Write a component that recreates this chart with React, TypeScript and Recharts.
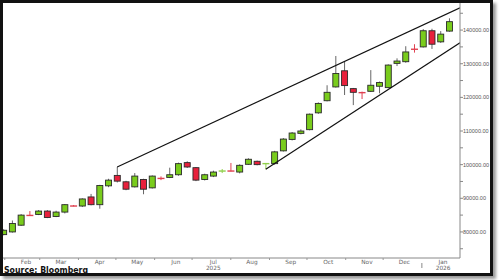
import React from "react";
import { ComposedChart, Bar, Line, XAxis, YAxis } from "recharts";

// weekly candles, first one dated 31 Jan 2025
const opens = [
  79200, 80000, 82000, 85000, 85200, 86200, 84600, 85900, 87800, 87700,
  90400, 88100, 93700, 96800, 94900, 93400, 95600, 93100, 96000, 96200,
  97000, 100600, 99100, 95600, 96600, 98000, 98200, 97800, 100100, 101000,
  100200, 100300, 104100, 107500, 109300, 110400, 115400, 119000, 123100, 127900,
  122600, 121500, 121800, 123300, 122900, 130100, 130600, 134400, 135000, 139800,
  136500, 139700,
];
const highs = [
  80800, 83400, 85300, 86200, 86500, 86500, 86300, 88300, 88000, 90000,
  91300, 94000, 95800, 99300, 95200, 97500, 95800, 96800, 96500, 99100,
  100600, 101000, 99300, 97300, 98200, 98700, 100500, 100100, 101900, 101200,
  100500, 104100, 107900, 109700, 110500, 115200, 118500, 123600, 132300, 130600,
  122800, 121700, 128100, 124700, 129800, 131600, 135200, 135800, 140300, 140400,
  139700, 143500,
];
const lows = [
  79000, 79800, 81800, 84800, 85000, 84100, 84400, 85500, 87600, 87400,
  87900, 86900, 93300, 94700, 92400, 93200, 91200, 92900, 95400, 96000,
  96700, 99000, 95100, 95300, 96300, 97500, 98000, 97400, 99900, 99800,
  98600, 100000, 103900, 107200, 109000, 110200, 115100, 118800, 122900, 120700,
  117700, 119500, 121600, 121200, 122700, 129300, 130300, 133300, 134800, 134400,
  136200, 139500,
];
const closes = [
  80500, 82500, 85000, 84900, 86200, 84300, 85900, 88100, 87700, 89800,
  88100, 93800, 95400, 95100, 92700, 96600, 92700, 96600, 95900, 97000,
  100300, 99300, 95400, 97000, 97800, 98100, 98100, 99800, 101600, 100000,
  100300, 103800, 107600, 109400, 110000, 115000, 118200, 121500, 127100, 123500,
  121500, 121400, 123600, 124400, 129600, 130800, 133500, 134300, 139800, 135800,
  138800, 142500,
];

// wedge lines: [week index, price]
const upperWedge = [[13, 99300], [52.22, 146600]];
const lowerWedge = [[30, 98600], [52.22, 136200]];

const monthNames = ["Feb", "Mar", "Apr", "May", "Jun", "Jul", "Aug", "Sep", "Oct", "Nov", "Dec", "Jan"];
const monthStarts = [
  "2025-02-01", "2025-03-01", "2025-04-01", "2025-05-01", "2025-06-01", "2025-07-01",
  "2025-08-01", "2025-09-01", "2025-10-01", "2025-11-01", "2025-12-01", "2026-01-01",
];
const monthLabelDates = [
  "2025-02-18", "2025-03-18", "2025-04-18", "2025-05-18", "2025-06-18", "2025-07-18",
  "2025-08-18", "2025-09-18", "2025-10-18", "2025-11-18", "2025-12-18", "2026-01-18",
];
const yearLabels: Record<string, string> = { Jul: "2025", Jan: "2026" };
const yTicks = [75000, 80000, 85000, 90000, 95000, 100000, 105000, 110000, 115000, 120000, 125000, 130000, 135000, 140000, 145000];

const base = Date.UTC(2025, 0, 31);
const weekIdx = (d: string) => (Date.parse(d + "T00:00:00Z") - base) / (7 * 86400000);

const data: any[] = opens.map((o, i) => ({
  i,
  o,
  h: highs[i],
  l: lows[i],
  c: closes[i],
  range: [lows[i], highs[i]],
}));
const addPoint = (key: string, [i, v]: number[]) => {
  const row = data.find((r) => r.i === i);
  if (row) row[key] = v;
  else data.push({ i, [key]: v });
};
upperWedge.forEach((p) => addPoint("up", p));
lowerWedge.forEach((p) => addPoint("lo", p));

const boundaryTicks = monthStarts.map(weekIdx);
const labelTicks = monthLabelDates.map(weekIdx);
const xTicks = [...boundaryTicks, ...labelTicks];

const GREEN = "#79cc1c";
const RED = "#e8203c";

const Candle = (props: any) => {
  const { x, y, width, height, payload } = props;
  if (!payload || payload.range == null) return null;
  const { o, h, l, c } = payload;
  const top = Math.min(y, y + height);
  const span = Math.abs(height);
  const py = (v: number) => (h === l ? top : top + ((h - v) / (h - l)) * span);
  const cx = x + width / 2;
  const up = c >= o;
  if (Math.abs(c - o) < 250) {
    const col = up ? "#8fcf4a" : "#e04050";
    return (
      <g>
        <line x1={cx} x2={cx} y1={py(h)} y2={py(l)} stroke={col} strokeWidth={1} />
        <line x1={x} x2={x + width} y1={py(c)} y2={py(c)} stroke={col} strokeWidth={1.4} />
      </g>
    );
  }
  const bt = py(Math.max(o, c));
  const bb = py(Math.min(o, c));
  return (
    <g>
      <line x1={cx} x2={cx} y1={py(h)} y2={py(l)} stroke="#666" strokeWidth={1} />
      <rect x={x + 0.5} y={bt} width={width - 1} height={Math.max(bb - bt, 1)} fill={up ? GREEN : RED} stroke="#2a2a2a" strokeWidth={0.9} />
    </g>
  );
};

const YTick = (props: any) => {
  const { x, y, payload } = props;
  if (payload.value % 10000 !== 0) return null;
  return (
    <text x={x} y={y} dy={2} fontSize={5.5} fill="#555" fontFamily="Liberation Sans">
      {payload.value.toFixed(2)}
    </text>
  );
};

const XTick = (props: any) => {
  const { x, y, payload } = props;
  const v = payload.value;
  const li = labelTicks.findIndex((t) => Math.abs(t - v) < 1e-6);
  if (li >= 0) {
    const name = monthNames[li];
    return (
      <g>
        <text x={x} y={y + 6} textAnchor="middle" fontSize={5.8} fill="#666" fontFamily="DejaVu Sans">
          {name}
        </text>
        {yearLabels[name] && (
          <text x={x} y={y + 11.5} textAnchor="middle" fontSize={5.8} fill="#666" fontFamily="DejaVu Sans">
            {yearLabels[name]}
          </text>
        )}
      </g>
    );
  }
  const bi = boundaryTicks.findIndex((t) => Math.abs(t - v) < 1e-6);
  if (monthStarts[bi] && monthStarts[bi].endsWith("01-01")) {
    return <line x1={x} x2={x} y1={y + 5} y2={y + 10} stroke="#888" strokeWidth={1} />;
  }
  return <line x1={x} x2={x} y1={y} y2={y + 2} stroke="#999" strokeWidth={1} />;
};

export default function App() {
  return (
    <div style={{ position: "absolute", left: 0, top: 0, width: 500, height: 280, background: "#fff" }}>
      <div style={{ position: "absolute", left: 0, top: 0 }}>
        <ComposedChart width={493} height={276} data={data} margin={{ top: 3, right: 0, bottom: 0, left: 3 }}>
          <XAxis
            dataKey="i"
            type="number"
            domain={[-0.06, 52.22]}
            allowDataOverflow
            ticks={xTicks}
            interval={0}
            height={18}
            tickSize={0}
            tickMargin={0}
            tickLine={false}
            axisLine={{ stroke: "#888" }}
            tick={<XTick />}
          />
          <YAxis
            orientation="right"
            type="number"
            domain={[72250, 148050]}
            allowDataOverflow
            ticks={yTicks}
            interval={0}
            width={33}
            tickSize={3}
            tickMargin={0}
            axisLine={{ stroke: "#888" }}
            tickLine={{ stroke: "#888" }}
            tick={<YTick />}
          />
          <Bar dataKey="range" barSize={7} shape={<Candle />} isAnimationActive={false} />
          <Line dataKey="up" stroke="#111" strokeWidth={1.2} dot={false} connectNulls isAnimationActive={false} />
          <Line dataKey="lo" stroke="#111" strokeWidth={1.2} dot={false} connectNulls isAnimationActive={false} />
        </ComposedChart>
      </div>
      <svg style={{ position: "absolute", left: 0, top: 0 }} width={493} height={276}>
        <text x={4} y={273} fontSize={8.5} fontWeight="bold" fontFamily="DejaVu Sans" fill="#111" textLength={84} lengthAdjust="spacingAndGlyphs">
          Source: Bloomberg
        </text>
      </svg>
      <div
        style={{
          position: "absolute",
          left: 0,
          top: 0,
          width: 493,
          height: 276,
          boxSizing: "border-box",
          border: "3px solid #111",
          boxShadow: "3px 3px 3px #999",
          pointerEvents: "none",
        }}
      />
    </div>
  );
}
